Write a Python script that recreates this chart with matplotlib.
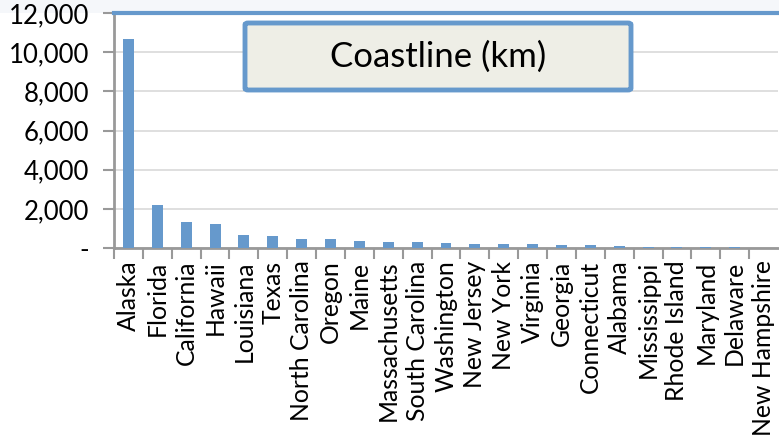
import matplotlib
matplotlib.use("Agg")
import matplotlib.pyplot as plt
from matplotlib.patches import FancyBboxPatch
from matplotlib.ticker import FuncFormatter

states = ["Alaska", "Florida", "California", "Hawaii", "Louisiana", "Texas",
          "North Carolina", "Oregon", "Maine", "Massachusetts", "South Carolina",
          "Washington", "New Jersey", "New York", "Virginia", "Georgia",
          "Connecticut", "Alabama", "Mississippi", "Rhode Island", "Maryland",
          "Delaware", "New Hampshire"]
coastline_km = [10686, 2173, 1352, 1207, 639, 591, 484, 476, 367, 309, 301,
                253, 209, 204, 180, 161, 155, 85, 71, 64, 50, 45, 21]
y_ticks = [0, 2000, 4000, 6000, 8000, 10000, 12000]
title_text = "Coastline (km)"

plt.rcParams["font.family"] = ["Lato", "DejaVu Sans"]

W, H = 779, 438
fig = plt.figure(figsize=(W / 100, H / 100), dpi=100, facecolor="white")

# light strip above the plot area
fig.patches.append(plt.Rectangle((0, 1 - 13 / H), 1, 13 / H, transform=fig.transFigure,
                                 facecolor="#f5f7fa", edgecolor="none", zorder=-1))

left, right, top, bottom = 114, 778, 13, 248
ax = fig.add_axes([left / W, 1 - bottom / H, (right - left) / W, (bottom - top) / H])
ax.set_facecolor("white")

x = range(len(states))
ax.bar(x, coastline_km, width=0.38, color="#6699cc", zorder=3)

ax.set_xlim(-0.5, len(states) - 0.5)
ax.set_ylim(0, 12000)
ax.set_yticks(y_ticks)
ax.yaxis.set_major_formatter(FuncFormatter(lambda v, p: "-" if v == 0 else f"{int(v):,}"))
ax.grid(axis="y", color="#d9d9d9", linewidth=1.2, zorder=0)

ax.set_xticks([i - 0.5 for i in x], minor=False)
ax.set_xticklabels([])
ax.set_xticks(list(x), minor=True)
ax.set_xticklabels(states, minor=True, rotation=90, fontsize=17.8, color="#000000")
ax.tick_params(axis="x", which="minor", length=0, pad=9)
ax.tick_params(axis="x", which="major", length=8, width=1.5, color="#999999")
ax.tick_params(axis="y", length=8, width=1.5, color="#999999", labelsize=18.5, pad=10)

ax.spines["right"].set_visible(False)
ax.spines["top"].set_color("#6699cc")
ax.spines["top"].set_linewidth(3)
ax.spines["left"].set_color("#999999")
ax.spines["left"].set_linewidth(2)
ax.spines["bottom"].set_color("#999999")
ax.spines["bottom"].set_linewidth(2)
for lbl in ax.get_yticklabels():
    lbl.set_clip_on(False)

# boxed chart title
bx0, by0, bx1, by1 = 245, 23, 631, 90
box = FancyBboxPatch((bx0 / W, 1 - by1 / H), (bx1 - bx0) / W, (by1 - by0) / H,
                     boxstyle="round,pad=0,rounding_size=0.004",
                     transform=fig.transFigure, facecolor="#eeeee6",
                     edgecolor="#6699cc", linewidth=3.5, zorder=5)
fig.patches.append(box)
fig.text((bx0 + bx1) / 2 / W, 1 - (by0 + by1) / 2 / H, title_text,
         ha="center", va="center", fontsize=25, color="#000000", zorder=6)

fig.savefig("out.png", dpi=100, facecolor="white")
